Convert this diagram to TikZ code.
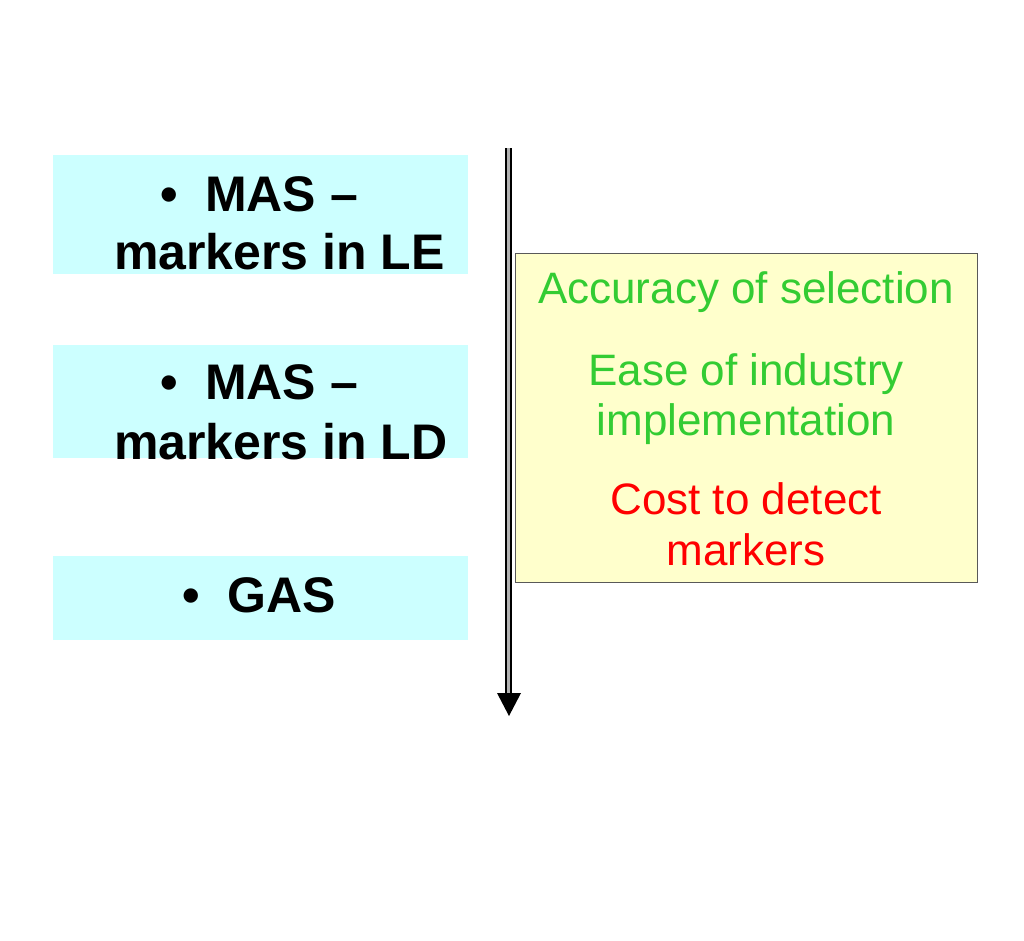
\documentclass[tikz,border=0pt]{standalone}
\usepackage{fontspec}
\setmainfont{Liberation Sans}
\usetikzlibrary{positioning}

\definecolor{boxcyan}{HTML}{CCFFFF}
\definecolor{boxyellow}{HTML}{FFFFCC}
\definecolor{txtgreen}{HTML}{33CC33}
\definecolor{txtred}{HTML}{FF0000}

\tikzset{
  leftline/.style={anchor=base west, inner sep=0pt, font=\fontsize{50}{58}\selectfont\bfseries},
  rightline/.style={anchor=base, inner sep=0pt, font=\fontsize{44}{50}\selectfont},
  timeline/.style={draw=black, double=white!70!black, double distance=2.4pt, line width=2.3pt}
}
\newcommand{\bul}{\makebox[45pt][l]{\textbullet}}

\begin{document}
\begin{tikzpicture}[x=1pt, y=-1pt]
    \useasboundingbox (0,0) rectangle (1024,940);

    % cyan boxes
    \fill[boxcyan] (53,155) rectangle (468,274);
    \fill[boxcyan] (53,345) rectangle (468,458);
    \fill[boxcyan] (53,556) rectangle (468,640);

    % left texts
    \node[leftline] (le1) at (160,211) {\bul MAS --};
    \node[leftline] (le2) at (114,269) {markers in LE};
    \node[leftline] (ld1) at (160,399) {\bul MAS --};
    \node[leftline] (ld2) at (114,459) {markers in LD};
    \node[leftline] (gas) at (182,612) {\bul GAS};

    % vertical arrow
    \coordinate (top) at (508.5,148);
    \coordinate (bottom) at (508.5,695);
    \draw[timeline] (top) -- (bottom);
    \fill[black] (497,693) -- (521,693) -- (509,716) -- cycle;

    % yellow box
    \draw[fill=boxyellow, draw=black!65, line width=0.9pt] (515,253) rectangle (977,582);
    \node[rightline, text=txtgreen] (acc) at (746,303) {Accuracy of selection};
    \node[rightline, text=txtgreen] (ease1) at (746,385) {Ease of industry};
    \node[rightline, text=txtgreen] (ease2) at (746,435) {implementation};
    \node[rightline, text=txtred] (cost1) at (746,514) {Cost to detect};
    \node[rightline, text=txtred] (cost2) at (746,565) {markers};
\end{tikzpicture}
\end{document}
